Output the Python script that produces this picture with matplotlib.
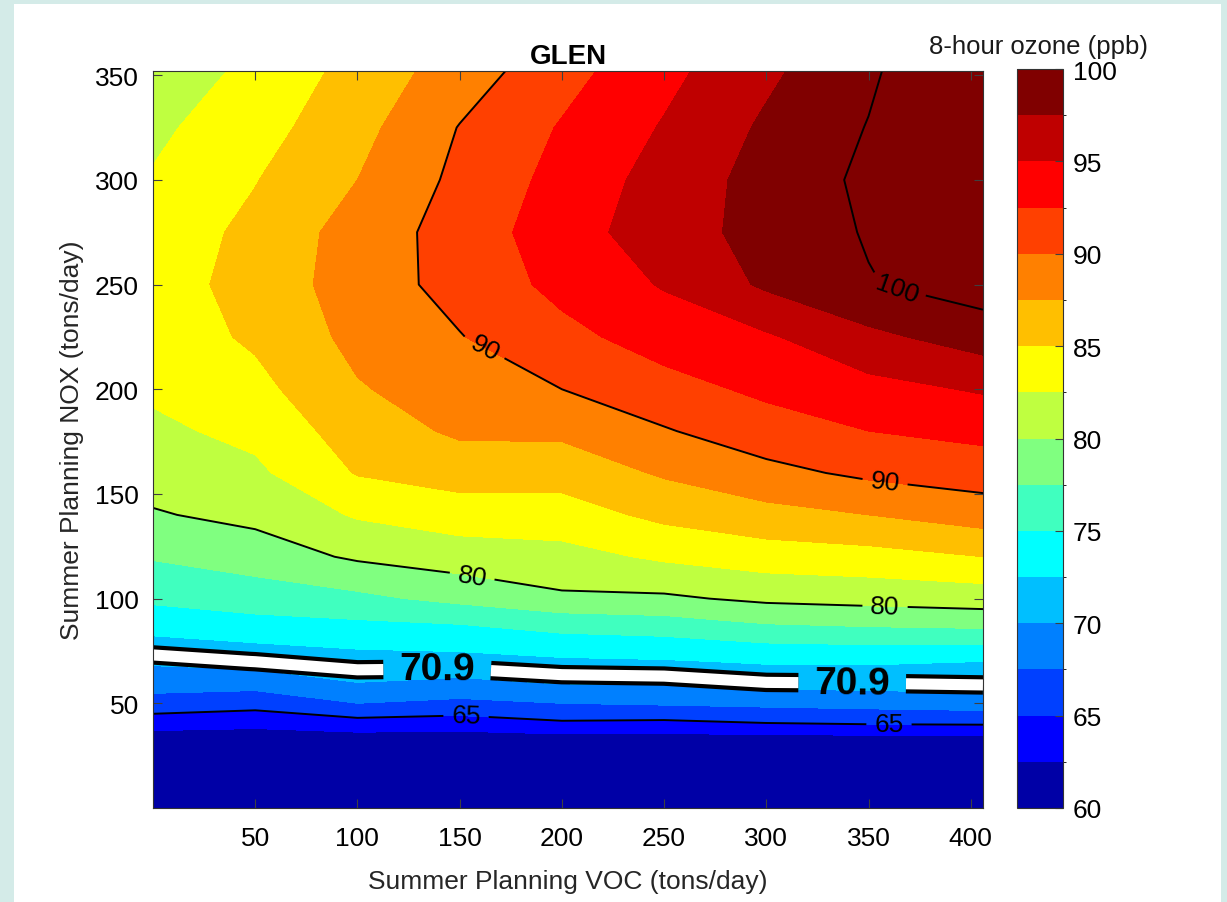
import numpy as np
import matplotlib
matplotlib.use("Agg")
import matplotlib.pyplot as plt
import matplotlib.patheffects as pe
from matplotlib.colors import ListedColormap, BoundaryNorm
from matplotlib.cm import ScalarMappable
from matplotlib.patches import Rectangle

plt.rcParams["font.family"] = ["Liberation Sans", "DejaVu Sans"]

# grid (tons/day)
voc = [0, 50, 100, 150, 200, 250, 300, 350, 406]
nox = [0, 30, 40, 50, 60, 70, 80, 90, 100, 120, 140, 160, 180,
       200, 225, 250, 275, 300, 325, 352]

# 8-hour ozone (ppb), one row per NOX value, columns follow voc
ozone = [
    [60.0, 60.0, 60.0, 60.0, 60.0, 60.0, 60.0, 60.0, 60.0],
    [60.2, 60.2, 60.2, 60.2, 60.2, 60.2, 60.2, 60.2, 60.2],
    [63.5, 63.1, 63.9, 63.65, 64.5, 64.3, 64.8, 65.0, 65.1],
    [66.5, 65.95, 67.5, 66.9, 67.5, 67.8, 68.1, 68.4, 68.75],
    [68.6, 68.5, 70.0, 69.5, 70.2, 70.3, 70.9, 71.0, 71.2],
    [70.36, 70.93, 71.5, 71.66, 72.1, 72.3, 72.75, 72.8, 72.5],
    [72.1, 72.7, 73.2, 73.46, 74.2, 74.5, 75.3, 75.55, 75.6],
    [73.9, 74.6, 75.0, 75.45, 76.5, 77.0, 78.05, 78.5, 78.9],
    [75.45, 76.1, 76.9, 78.2, 79.6, 79.6, 80.5, 80.8, 81.1],
    [77.7, 78.75, 80.36, 81.25, 81.65, 82.9, 83.75, 84.1, 85.0],
    [79.8, 80.65, 82.76, 83.75, 83.9, 85.6, 86.7, 87.5, 88.7],
    [81.0, 82.0, 85.16, 86.1, 86.0, 87.8, 89.3, 90.5, 91.2],
    [82.0, 83.15, 86.22, 87.9, 88.0, 89.8, 91.4, 92.5, 93.2],
    [82.9, 84.25, 87.29, 88.75, 90.0, 91.6, 93.0, 94.2, 95.25],
    [83.6, 85.4, 88.2, 89.9, 91.8, 93.6, 94.7, 96.9, 98.7],
    [84.0, 85.8, 88.8, 90.8, 93.2, 95.2, 97.9, 99.85, 101.2],
    [83.6, 85.6, 88.6, 91.0, 93.9, 96.3, 98.4, 100.2, 102.0],
    [82.7, 84.9, 87.5, 90.6, 93.3, 96.0, 98.4, 100.5, 102.5],
    [82.0, 84.0, 86.7, 90.1, 92.7, 95.2, 97.9, 100.1, 102.8],
    [81.2, 83.0, 85.9, 88.7, 91.6, 94.3, 97.0, 99.6, 103.0],
]

levels = [60, 62.5, 65, 67.5, 70, 72.5, 75, 77.5, 80,
          82.5, 85, 87.5, 90, 92.5, 95, 97.5, 100]
band_colors = [
    (0, 0, 0.65), (0, 0, 1), (0, 0.25, 1), (0, 0.5, 1),
    (0, 0.75, 1), (0, 1, 1), (0.25, 1, 0.75), (0.5, 1, 0.5),
    (0.75, 1, 0.25), (1, 1, 0), (1, 0.75, 0), (1, 0.5, 0),
    (1, 0.25, 0), (1, 0, 0), (0.75, 0, 0), (0.5, 0, 0),
]
line_levels = [65, 80, 90, 100]
standard = 70.9
cbar_ticks = [60, 65, 70, 75, 80, 85, 90, 95, 100]
x_ticks = [50, 100, 150, 200, 250, 300, 350, 400]
y_ticks = [50, 100, 150, 200, 250, 300, 350]

# where the inline labels sit
line_label_pos = [(153, 42), (360, 38.5), (156, 110), (358, 93.5),
                  (160, 216), (358, 155), (364, 249)]
std_label_pos = [(139, 65), (342, 59)]

W, H = 1227, 903
fig = plt.figure(figsize=(W / 100, H / 100), dpi=100)
fig.patch.set_facecolor("#d4ebe8")
fig.add_artist(Rectangle((14 / W, 0), 1207 / W, 898 / H,
                         transform=fig.transFigure, facecolor="white",
                         edgecolor="none", zorder=-1))

ax = fig.add_axes([153 / W, 94 / H, 830 / W, 737 / H])
cax = fig.add_axes([1017 / W, 94 / H, 46 / W, 739 / H])

X, Y = np.meshgrid(voc, nox)
Z = np.array(ozone)

cmap = ListedColormap(band_colors)
cmap.set_under(band_colors[0])
cmap.set_over(band_colors[-1])
norm = BoundaryNorm(levels, cmap.N)

ax.contourf(X, Y, Z, levels=levels, cmap=cmap, norm=norm, extend="both")

cs = ax.contour(X, Y, Z, levels=line_levels, colors="black", linewidths=1.4)
ax.clabel(cs, fmt="%d", fontsize=19, inline=True, inline_spacing=8,
          manual=line_label_pos)

cs_std = ax.contour(X, Y, Z, levels=[standard], colors="white", linewidths=8)
cs_std.set_path_effects([pe.Stroke(linewidth=14, foreground="black"),
                         pe.Normal()])
std_texts = ax.clabel(cs_std, fmt={standard: "70.9"}, fontsize=28,
                      inline=True, inline_spacing=16, colors="black",
                      manual=std_label_pos)
for t in std_texts:
    t.set_fontweight("bold")

ax.set_xlim(0, 406)
ax.set_ylim(0, 352)
ax.set_xticks(x_ticks)
ax.set_yticks(y_ticks)
ax.tick_params(direction="in", top=True, right=True, length=6.5,
               width=0.8, color="0.25", labelsize=19)
ax.tick_params(axis="x", pad=13)
ax.tick_params(axis="y", pad=10)
for sp in ax.spines.values():
    sp.set_color("0.2")
    sp.set_linewidth(0.8)

ax.set_xlabel("Summer Planning VOC (tons/day)", fontsize=19, labelpad=14,
              color="0.15")
ax.set_ylabel("Summer Planning NOX (tons/day)", fontsize=19, labelpad=8,
              color="0.15")

cb = fig.colorbar(ScalarMappable(norm=norm, cmap=cmap), cax=cax,
                  ticks=cbar_ticks)
cax.tick_params(direction="in", length=6, width=0.8, color="0.25",
                labelsize=19, pad=7)
cb.outline.set_edgecolor("0.2")
cb.outline.set_linewidth(0.8)

fig.text(1148 / W, 1 - 54 / H, "8-hour ozone (ppb)", ha="right",
         va="baseline", fontsize=18.5, color="0.1")
fig.text(568 / W, 1 - 64 / H, "GLEN", ha="center", va="baseline",
         fontsize=20, fontweight="bold")

fig.savefig("out.png", dpi=100, facecolor=fig.get_facecolor())
